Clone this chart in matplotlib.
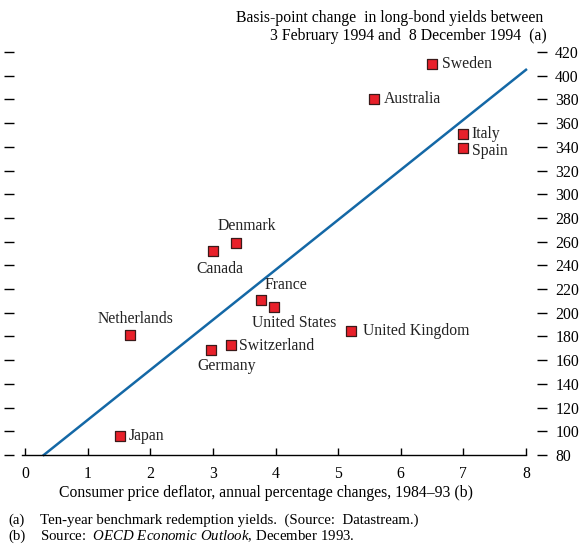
import matplotlib.pyplot as plt

plt.rcParams['font.family'] = ['Liberation Serif', 'DejaVu Serif']
plt.rcParams['font.size'] = 11.3
plt.rcParams['mathtext.fontset'] = 'custom'
plt.rcParams['mathtext.rm'] = 'Liberation Serif'
plt.rcParams['mathtext.it'] = 'Liberation Serif:italic'

# Inflation 1984-93 (%) vs change in long-bond yields (basis points)
countries = ['Sweden', 'Australia', 'Italy', 'Spain', 'Denmark', 'Canada',
             'France', 'United States', 'United Kingdom', 'Netherlands',
             'Switzerland', 'Germany', 'Japan']
inflation = [6.5, 5.57, 7.0, 7.0, 3.37, 3.0, 3.77, 3.97, 5.2, 1.68, 3.29, 2.97, 1.52]
yield_change = [410, 380, 351, 339, 259, 252, 211, 205, 185, 181, 173, 169, 96]

# label offsets in points and alignment for each country
label_pos = {
    'Sweden': (7, 0, 'left', 'center'),
    'Australia': (7, 0, 'left', 'center'),
    'Italy': (6, 0, 'left', 'center'),
    'Spain': (6, -2, 'left', 'center'),
    'Denmark': (8, 6, 'center', 'bottom'),
    'Canada': (5, -7, 'center', 'top'),
    'France': (18, 5, 'center', 'bottom'),
    'United States': (15, -6, 'center', 'top'),
    'United Kingdom': (9, 0, 'left', 'center'),
    'Netherlands': (4, 6, 'center', 'bottom'),
    'Switzerland': (6, -1, 'left', 'center'),
    'Germany': (11, -6, 'center', 'top'),
    'Japan': (6, 0, 'left', 'center'),
}

# fitted line end points
fit_x = [0.3, 8.0]
fit_y = [80, 405]

fig = plt.figure(figsize=(5.87, 5.53), dpi=100)
ax = fig.add_axes([25 / 587, 98 / 553, 501 / 587, 403 / 553])

ax.plot(fit_x, fit_y, color='#1468a6', linewidth=1.8, zorder=2, clip_on=False)
ax.scatter(inflation, yield_change, marker='s', s=48, color='#e8202a',
           edgecolor='#3a1a1a', linewidth=0.9, zorder=3, clip_on=False)

for name, x, y in zip(countries, inflation, yield_change):
    dx, dy, ha, va = label_pos[name]
    ax.annotate(name, (x, y), xytext=(dx, dy), textcoords='offset points',
                ha=ha, va=va, color='#222222')

ax.set_xlim(0, 8)
ax.set_ylim(80, 420)
ax.set_xticks(range(0, 9))
ax.set_yticks(range(80, 421, 20))

for side in ['top', 'left', 'right']:
    ax.spines[side].set_visible(False)
ax.spines['left'].set_position(('outward', 8))
ax.spines['right'].set_position(('outward', 8))
ax.spines['bottom'].set_bounds(-0.05, 8)
ax.spines['bottom'].set_linewidth(1.0)

ax.tick_params(axis='y', left=True, right=True, labelleft=False,
               labelright=True, direction='out', length=7, width=1.0, pad=6)
ax.tick_params(axis='x', direction='in', length=5, width=1.0, pad=8)

ax.set_xlabel('Consumer price deflator, annual percentage changes, 1984\u201393 (b)',
              labelpad=4)
ax.xaxis.set_label_coords(0.482, -0.075)

fig.text(543 / 587, 1 - 18 / 553, 'Basis-point change  in long-bond yields between',
         ha='right', va='center')
fig.text(547 / 587, 1 - 36 / 553, '3 February 1994 and  8 December 1994  (a)',
         ha='right', va='center')

fig.text(8 / 587, 1 - 520 / 553, '(a)', ha='left', va='center', fontsize=10.7)
fig.text(40 / 587, 1 - 520 / 553,
         'Ten-year benchmark redemption yields.  (Source:  Datastream.)',
         ha='left', va='center', fontsize=10.7)
fig.text(8 / 587, 1 - 536 / 553, '(b)', ha='left', va='center', fontsize=10.7)
fig.text(40 / 587, 1 - 536 / 553,
         r'Source:  $\it{OECD\ Economic\ Outlook}$, December 1993.',
         ha='left', va='center', fontsize=10.7)

fig.savefig('out.png', dpi=100)
